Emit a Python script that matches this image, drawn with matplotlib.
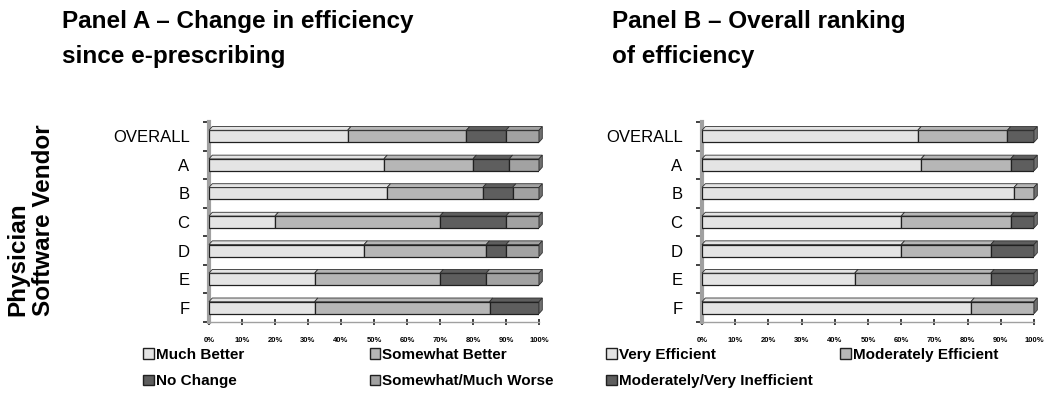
import numpy as np
import matplotlib
matplotlib.use('Agg')
import matplotlib.pyplot as plt
import matplotlib.ticker as mticker
from matplotlib.patches import Polygon, Patch

plt.rcParams['font.family'] = ['Liberation Sans', 'DejaVu Sans']

# === data ===
vendors = ['OVERALL', 'A', 'B', 'C', 'D', 'E', 'F']

much_better     = [42, 53, 54, 20, 47, 32, 32]
somewhat_better = [36, 27, 29, 50, 37, 38, 53]
no_change       = [12, 11, 9, 20, 6, 14, 15]
worse           = [10, 9, 8, 10, 10, 16, 0]

very_eff   = [65, 66, 94, 60, 60, 46, 81]
mod_eff    = [27, 27, 6, 33, 27, 41, 19]
mod_ineff  = [8, 7, 0, 7, 13, 13, 0]

xticks = np.arange(0, 101, 10)

W, H = 1050, 403
fig = plt.figure(figsize=(W / 100, H / 100), dpi=100)


def bars3d(ax, series, colors):
    n = len(vendors)
    y = np.arange(n)
    h = 0.42
    dx, dy = 1.0, 0.13   # depth of the fake 3D face (data units)
    left = np.zeros(n)
    for vals, col in zip(series, colors):
        vals = np.array(vals, dtype=float)
        ax.barh(y, vals, left=left, height=h, color=col,
                edgecolor='#202020', linewidth=0.9, zorder=3)
        for i in range(n):
            if vals[i] <= 0:
                continue
            l, r = left[i], left[i] + vals[i]
            top = y[i] - h / 2
            ax.add_patch(Polygon([(l, top), (l + dx, top - dy),
                                  (r + dx, top - dy), (r, top)],
                                 closed=True, facecolor=col,
                                 edgecolor='#303030', linewidth=0.6,
                                 zorder=3, clip_on=False))
        left = left + vals
    # right side face
    for i in range(n):
        r = left[i]
        top, bot = y[i] - h / 2, y[i] + h / 2
        ax.add_patch(Polygon([(r, top), (r + dx, top - dy),
                              (r + dx, bot - dy), (r, bot)],
                             closed=True, facecolor='#707070',
                             edgecolor='#303030', linewidth=0.6, zorder=3,
                             clip_on=False))

    ax.set_xlim(0, 100)
    ax.set_ylim(n - 0.5, -0.5)
    ax.set_xticks(xticks)
    ax.xaxis.set_major_formatter(mticker.FuncFormatter(lambda v, _: f'{v:.0f}%'))
    ax.set_yticks(y)
    ax.set_yticklabels(vendors, fontsize=12)
    ax.set_yticks(np.arange(-0.5, n, 1.0), minor=True)
    ax.tick_params(axis='y', which='major', length=0, pad=14)
    ax.tick_params(axis='y', which='minor', length=4, width=1.2,
                   color='#202020', direction='out')
    ax.tick_params(axis='x', length=5, width=1.2, color='#202020',
                   direction='inout', labelsize=5.5, pad=8)
    for lab in ax.get_xticklabels():
        lab.set_fontweight('bold')
    for s in ['top', 'right']:
        ax.spines[s].set_visible(False)
    ax.spines['left'].set_color('#a0a0a0')
    ax.spines['left'].set_linewidth(3)
    ax.spines['bottom'].set_color('#a0a0a0')
    ax.spines['bottom'].set_linewidth(1)
    ax.set_facecolor('none')


c_light, c_mid, c_dark, c_worse = '#e4e4e4', '#b6b6b6', '#5e5e5e', '#a2a2a2'

# === Panel A ===
axA = fig.add_axes([209 / W, (H - 322) / H, 330 / W, 200 / H])
bars3d(axA, [much_better, somewhat_better, no_change, worse],
       [c_light, c_mid, c_dark, c_worse])

# === Panel B ===
axB = fig.add_axes([702 / W, (H - 322) / H, 332 / W, 200 / H])
bars3d(axB, [very_eff, mod_eff, mod_ineff], [c_light, c_mid, c_dark])

# === titles ===
fig.text(62 / W, 1 - 10 / H, 'Panel A \u2013 Change in efficiency\nsince e-prescribing',
         fontsize=17.5, fontweight='bold', va='top', ha='left', linespacing=1.65)
fig.text(612 / W, 1 - 10 / H, 'Panel B \u2013 Overall ranking\nof efficiency',
         fontsize=17.5, fontweight='bold', va='top', ha='left', linespacing=1.65)
fig.text(31 / W, (H - 316) / H, 'Physician\nSoftware Vendor', rotation=90,
         fontsize=17.5, fontweight='bold', ha='center', va='bottom',
         multialignment='left', linespacing=1.15)

# === legends ===
def sq(col):
    return Patch(facecolor=col, edgecolor='#202020', linewidth=1)

legA = fig.legend([sq(c_light), sq(c_dark), sq(c_mid), sq(c_worse)],
                  ['Much Better', 'No Change', 'Somewhat Better', 'Somewhat/Much Worse'],
                  ncol=2, loc='upper left', bbox_to_anchor=(143 / W, 1 - 348 / H),
                  frameon=False, prop={'weight': 'bold', 'size': 11},
                  handlelength=0.7, handleheight=0.7, handletextpad=0.15,
                  columnspacing=8.2, labelspacing=0.8, borderaxespad=0, borderpad=0)
legB = fig.legend([sq(c_light), sq(c_dark), sq(c_mid)],
                  ['Very Efficient', 'Moderately/Very Inefficient', 'Moderately Efficient'],
                  ncol=2, loc='upper left', bbox_to_anchor=(606 / W, 1 - 348 / H),
                  frameon=False, prop={'weight': 'bold', 'size': 11},
                  handlelength=0.7, handleheight=0.7, handletextpad=0.15,
                  columnspacing=1.8, labelspacing=0.8, borderaxespad=0, borderpad=0)

fig.savefig('out.png', dpi=100)
